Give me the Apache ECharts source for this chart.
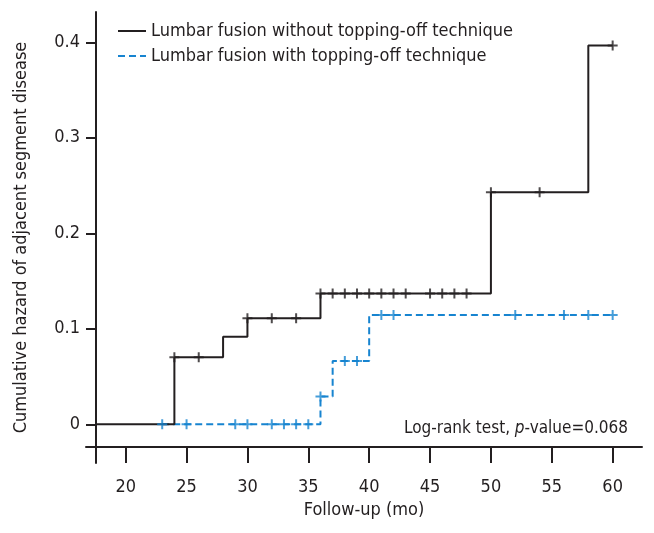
<!DOCTYPE html>
<html>
<head>
<meta charset="utf-8">
<script src="https://cdn.jsdelivr.net/npm/echarts@6/dist/echarts.min.js"></script>
<style>
  html, body { margin: 0; padding: 0; background: #fff; }
  #chart { width: 654px; height: 533px; }
</style>
</head>
<body>
<div id="chart"></div>
<script>
// 累积风险曲线 (Kaplan-Meier 累积风险)
var FONT = '"Liberation Sans Narrow", "DejaVu Sans Condensed", Roboto, sans-serif'
var INK = '#231f20'
var BLUE = '#1784d0'
var FS = 18

// 无 topping-off
var noTopTimes = [17.56, 24, 28, 30, 36, 50, 58, 60]
var noTopHazard = [0, 0.0702, 0.0918, 0.111, 0.137, 0.243, 0.3965, 0.3965]
var noTopCensor = [24, 26, 30, 32, 34, 36, 37, 38, 39, 40, 41, 42, 43, 45, 46, 47, 48, 50, 54, 60]

// 有 topping-off
var topTimes = [23, 36, 37, 40, 60]
var topHazard = [0, 0.029, 0.0663, 0.1145, 0.1145]
var topCensor = [23, 25, 29, 30, 32, 33, 34, 35, 36, 38, 39, 41, 42, 52, 56, 58, 60]

var xTicks = [20, 25, 30, 35, 40, 45, 50, 55, 60]
var yTicks = [0, 0.1, 0.2, 0.3, 0.4]

var legendNames = ['Lumbar fusion without topping-off technique', 'Lumbar fusion with topping-off technique']

function pairs(xs, ys) {
  return xs.map(function (x, i) { return [x, ys[i]] })
}
function stepAt(xs, ys, t) {
  var v = ys[0]
  for (var i = 0; i < xs.length; i++) {
    if (xs[i] <= t) v = ys[i]
  }
  return v
}
function censorPts(cs, xs, ys) {
  return cs.map(function (t) { return [t, stepAt(xs, ys, t)] })
}

var PLUS = 'path://M4,0H6V4H10V6H6V10H4V6H0V4H4Z'

var myChart = echarts.init(document.getElementById('chart'))
var option = {
  animation: false,
  textStyle: { fontFamily: FONT },
  title: {
    right: 21,
    top: 415,
    text: '{a|Log-rank test, }{i|p}{a|-value=0.068}',
    textStyle: {
      fontWeight: 'normal',
      rich: {
        a: { fontFamily: FONT, fontSize: 17, color: INK, fontWeight: 'normal' },
        i: { fontFamily: FONT, fontSize: 17, color: INK, fontWeight: 'normal', fontStyle: 'italic' }
      }
    }
  },
  legend: {
    orient: 'vertical',
    left: 112,
    top: 17,
    itemWidth: 28,
    itemHeight: 14,
    itemGap: 7,
    data: legendNames,
    itemStyle: { opacity: 0 },
    textStyle: { fontFamily: FONT, fontSize: FS, color: INK }
  },
  grid: { left: 86, top: 12, width: 556, height: 451 },
  xAxis: {
    type: 'value',
    min: 16.74,
    max: 62.41,
    offset: -16,
    name: 'Follow-up (mo)',
    nameLocation: 'middle',
    nameGap: 52,
    nameTextStyle: { fontFamily: FONT, fontSize: FS, color: INK },
    splitLine: { show: false },
    axisLine: { onZero: false, lineStyle: { color: INK, width: 2 } },
    axisTick: { length: 16, lineStyle: { color: INK, width: 2 }, customValues: xTicks },
    axisLabel: { margin: 31, fontSize: FS, color: INK, fontFamily: FONT, customValues: xTicks }
  },
  yAxis: {
    type: 'value',
    min: -0.0405,
    max: 0.4317,
    offset: -10,
    name: 'Cumulative hazard of adjacent segment disease',
    nameLocation: 'middle',
    nameGap: 66,
    nameTextStyle: { fontFamily: FONT, fontSize: FS, color: INK },
    splitLine: { show: false },
    axisLine: { onZero: false, lineStyle: { color: INK, width: 2 } },
    axisTick: { length: 10, lineStyle: { color: INK, width: 2 }, customValues: yTicks },
    axisLabel: {
      margin: 16, fontSize: FS, color: INK, fontFamily: FONT, customValues: yTicks,
      formatter: function (v) { return v === 0 ? '0' : v.toFixed(1) }
    }
  },
  series: [
    {
      name: legendNames[0],
      type: 'line',
      step: 'end',
      symbol: 'none',
      lineStyle: { color: INK, width: 2 },
      itemStyle: { color: INK },
      data: pairs(noTopTimes, noTopHazard),
      z: 3
    },
    {
      name: legendNames[1],
      type: 'line',
      step: 'end',
      symbol: 'none',
      lineStyle: { color: BLUE, width: 2, type: [7, 4] },
      itemStyle: { color: BLUE },
      data: pairs(topTimes, topHazard),
      z: 2
    },
    {
      type: 'scatter',
      symbol: PLUS,
      symbolSize: 10,
      itemStyle: { color: INK },
      data: censorPts(noTopCensor, noTopTimes, noTopHazard),
      z: 4
    },
    {
      type: 'scatter',
      symbol: PLUS,
      symbolSize: 10,
      itemStyle: { color: BLUE },
      data: censorPts(topCensor, topTimes, topHazard),
      z: 4
    }
  ]
}
myChart.setOption(option)
</script>
</body>
</html>
